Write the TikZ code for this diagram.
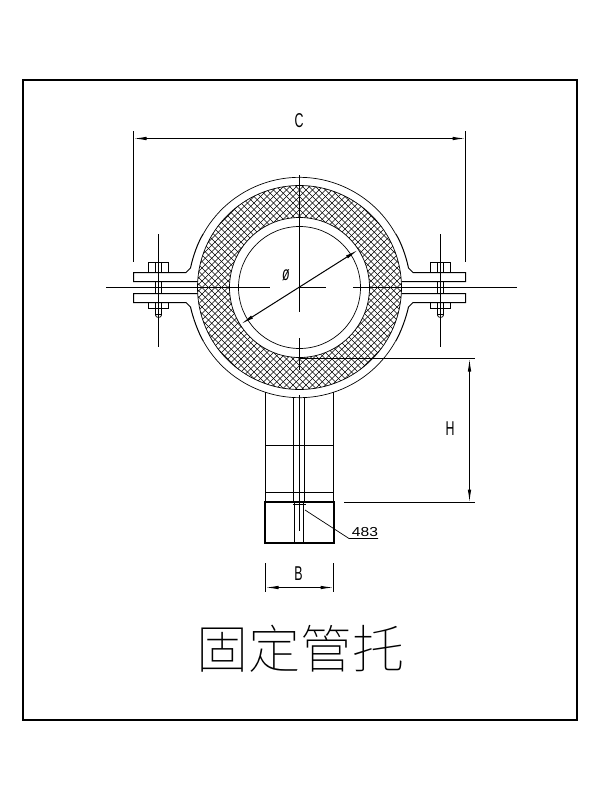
\documentclass[tikz,border=0pt]{standalone}
\usepackage{fontspec}
\setmainfont{Liberation Sans}
\newfontfamily\cjk{Noto Sans CJK SC Thin}
\usetikzlibrary{arrows.meta}
\newcommand{\cadlabel}[1]{\scalebox{.62}[1]{\fontsize{20}{20}\selectfont #1}}
\tikzset{
	thinline/.style={line width=.7pt},
	heavyline/.style={line width=1pt},
	hatchline/.style={line width=.6pt},
	dimline/.style={line width=1pt, {Latex[length=13pt,width=3.5pt]}-{Latex[length=13pt,width=3.5pt]}},
	cadtext/.style={inner sep=0pt}
}
\begin{document}
\begin{tikzpicture}[x=1pt,y=-1pt]
\useasboundingbox (0,0) rectangle (600,800);
\draw[line width=2pt] (23,80) rectangle (577,720);
% insulation
\begin{scope}[even odd rule]
	\clip (299.5,287.5) circle (102) (299.5,287.5) circle (70);
	\foreach \k in {-36,...,36} {
		\draw[hatchline] (299.5+\k*6.5-110,177.5) -- (299.5+\k*6.5+110,397.5);
		\draw[hatchline] (299.5+\k*6.5+110,177.5) -- (299.5+\k*6.5-110,397.5);
	};
\end{scope}
\draw[thinline] (299.5,287.5) circle (102);
\draw[thinline] (299.5,287.5) circle (70);
\draw[thinline] (299.5,287.5) circle (61);
% clamp
\draw[thinline] (203.5,233.5) arc (209.3:330.7:110);
\draw[thinline] (203.5,341.5) arc (150.7:29.3:110);
\foreach \s in {-1,1} {
	\draw[heavyline] (299.5+\s*102,281.5) -- (299.5+\s*166,281.5) -- (299.5+\s*166,272.5) -- (299.5+\s*113.5,272.5)
		-- (299.5+\s*109,268) .. controls (299.5+\s*106.5,256) and (299.5+\s*101.5,242) .. (299.5+\s*96,233.5);
	\draw[heavyline] (299.5+\s*102,293.5) -- (299.5+\s*166,293.5) -- (299.5+\s*166,302.5) -- (299.5+\s*113.5,302.5)
		-- (299.5+\s*109,307) .. controls (299.5+\s*106.5,318) and (299.5+\s*101.5,332) .. (299.5+\s*96,341.5);
};
% bolts
\foreach \x in {158.5,440.5} {
	\draw[thinline] (\x-10,272.5) -- (\x-10,262.5) -- (\x+10,262.5) -- (\x+10,272.5);
	\draw[thinline] (\x-10,302.5) -- (\x-10,308.5) -- (\x+10,308.5) -- (\x+10,302.5);
	\draw[thinline] (\x-3,262.5) -- (\x-3,272.5) (\x+3,262.5) -- (\x+3,272.5);
	\draw[thinline] (\x-3,281.5) -- (\x-3,293.5) (\x+3,281.5) -- (\x+3,293.5);
	\draw[thinline] (\x-3,302.5) -- (\x-3,315) arc (180:0:3 and 2.5) -- (\x+3,302.5);
	\draw[thinline] (\x-3,314.5) -- (\x+3,314.5);
	\draw[heavyline] (\x,234) -- (\x,347);
};
% center lines
\draw[heavyline] (106,287.5) -- (270,287.5);
\draw[heavyline] (299.5,287.5) -- (326,287.5);
\draw[heavyline] (353,287.5) -- (517,287.5);
\draw[heavyline] (299.5,175) -- (299.5,312);
\draw[heavyline] (299.5,338) -- (299.5,370);
% support
\draw[heavyline] (265.5,392) -- (265.5,502) (333.5,392) -- (333.5,502);
\draw[heavyline] (265.5,445.5) -- (333.5,445.5) (265.5,492.5) -- (333.5,492.5);
\draw[thinline] (293.5,398) -- (293.5,502) (304.5,398) -- (304.5,502);
\draw[thinline] (299.5,395) -- (299.5,531);
\draw[line width=2pt] (265,502) rectangle (334,543);
\draw[heavyline] (294.5,503) -- (294.5,543) (303.5,503) -- (303.5,543);
\draw[heavyline] (293,504.5) -- (306,504.5);
% dimensions
\coordinate (cleft) at (133.5,138.5);
\coordinate (cright) at (465.5,138.5);
\draw[heavyline] (133.5,131) -- (133.5,262) (465.5,131) -- (465.5,262);
\draw[dimline] (cleft) -- (cright);
\node[cadtext] (clabel) at (299,121) {\cadlabel{C}};
\coordinate (htop) at (469.5,358.5);
\coordinate (hbottom) at (469.5,502.5);
\draw[heavyline] (300,358.5) -- (475,358.5) (344,502.5) -- (475,502.5);
\draw[dimline] (htop) -- (hbottom);
\node[cadtext] (hlabel) at (450,429) {\cadlabel{H}};
\coordinate (bleft) at (265.5,587.5);
\coordinate (bright) at (333.5,587.5);
\draw[heavyline] (265.5,563) -- (265.5,592) (333.5,563) -- (333.5,592);
\draw[dimline] (bleft) -- (bright);
\node[cadtext] (blabel) at (298.5,574) {\cadlabel{B}};
\coordinate (dialeft) at (241,324);
\coordinate (diaright) at (358,250);
\draw[dimline] (dialeft) -- (diaright);
\node[cadtext] (dialabel) at (286,275) {\cadlabel{\itshape ø}};
% weld mark
\node[cadtext] (weld) at (365,532) {\scalebox{1.2}[1]{\fontsize{13}{13}\selectfont 483}};
\coordinate (weldtip) at (305,510);
\coordinate (weldknee) at (349,538.5);
\coordinate (weldend) at (378,538.5);
\draw[thinline] (weldtip) -- (weldknee) -- (weldend);
% title
\node[cadtext] (title) at (300.5,648.5) {\cjk\fontsize{52}{52}\selectfont 固定管托};
\end{tikzpicture}
\end{document}
